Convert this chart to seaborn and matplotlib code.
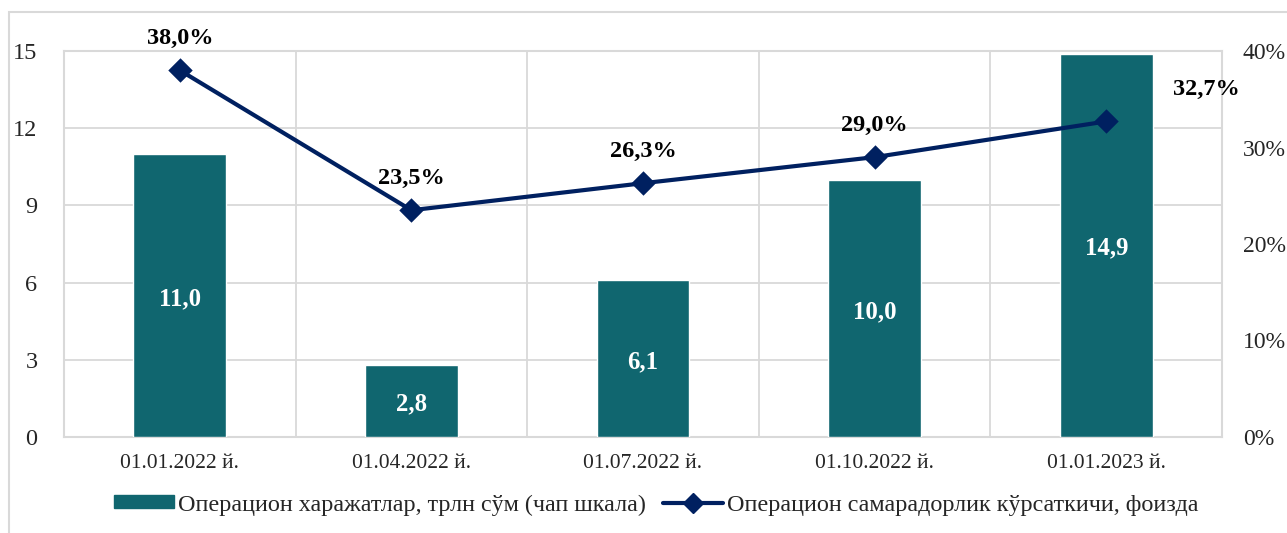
import matplotlib
matplotlib.use("Agg")
import matplotlib.pyplot as plt
from matplotlib.patches import Rectangle, Patch
from matplotlib.lines import Line2D
import matplotlib.ticker as mticker
import seaborn as sns
import pandas as pd
import numpy as np

# Data
dates = ["01.01.2022 й.", "01.04.2022 й.", "01.07.2022 й.", "01.10.2022 й.", "01.01.2023 й."]
expenses = [11.0, 2.8, 6.1, 10.0, 14.9]          # trillion sum, left axis
efficiency = [38.0, 23.5, 26.3, 29.0, 32.7]      # percent, right axis
left_ticks = [0, 3, 6, 9, 12, 15]
right_ticks = [0, 10, 20, 30, 40]

bar_label = "Операцион харажатлар, трлн сўм (чап шкала)"
line_label = "Операцион самарадорлик кўрсаткичи, фоизда"

bar_color = "#10666f"
line_color = "#002060"
grid_color = "#d9d9d9"

sns.set_theme(style="white")
plt.rcParams["font.family"] = ["Liberation Serif", "DejaVu Serif"]

df = pd.DataFrame({"date": dates, "expenses": expenses, "efficiency": efficiency})

W, H = 1287, 533
fig = plt.figure(figsize=(W / 100, H / 100), dpi=100)

# Outer chart frame
fig.add_artist(Rectangle((9 / W, -0.1), 1.2, (H - 12) / H + 0.1, transform=fig.transFigure,
                         fill=False, edgecolor=grid_color, linewidth=1.5))

x0, x1, ytop, ybot = 64, 1222, 51, 437
ax = fig.add_axes([x0 / W, (H - ybot) / H, (x1 - x0) / W, (ybot - ytop) / H])

sns.barplot(data=df, x="date", y="expenses", color=bar_color, saturation=1,
            width=0.4, ax=ax, zorder=3)
ax.set_ylim(0, 15)
ax.set_xlim(-0.5, len(dates) - 0.5)
ax.set_yticks(left_ticks)
ax.set_xlabel("")
ax.set_ylabel("")

# Grid: horizontal at ticks, vertical between categories
for t in left_ticks:
    ax.axhline(t, color=grid_color, linewidth=1.3, zorder=0)
for b in np.arange(len(dates) + 1) - 0.5:
    ax.axvline(b, color=grid_color, linewidth=1.3, zorder=0)
for s in ax.spines.values():
    s.set_color(grid_color)
    s.set_linewidth(1.5)

ax.tick_params(axis="y", length=0, pad=19, labelsize=17.5)
ax.tick_params(axis="x", length=0, pad=12, labelsize=15.5)

# Bar value labels
for p, v in zip(ax.patches, expenses):
    ax.annotate(f"{v:.1f}".replace(".", ","), (p.get_x() + p.get_width() / 2, v / 2),
                xytext=(0, -3), textcoords="offset pixels",
                ha="center", va="center", color="white", fontsize=17.8,
                fontweight="bold", zorder=5)

ax2 = ax.twinx()
sns.pointplot(data=df, x="date", y="efficiency", color=line_color, markers="D",
              markersize=10, linewidth=3, ax=ax2, zorder=4)
ax2.set_ylim(0, 40)
ax2.set_xlim(-0.5, len(dates) - 0.5)
ax2.set_yticks(right_ticks)
ax2.yaxis.set_major_formatter(mticker.FuncFormatter(lambda v, _: f"{v:.0f}%"))
ax2.set_ylabel("")
ax2.set_xlabel("")
ax2.tick_params(axis="y", length=0, pad=15, labelsize=17)
for s in ax2.spines.values():
    s.set_visible(False)

# Percentage labels above the line
for i, v in enumerate(efficiency):
    dx = 100 if i == len(efficiency) - 1 else 0
    ax2.annotate(f"{v:.1f}%".replace(".", ","), (i, v), xytext=(dx, 21),
                 textcoords="offset pixels", ha="center", va="bottom",
                 fontsize=17.5, fontweight="bold", color="black", zorder=6)

handles = [Patch(facecolor=bar_color, edgecolor=bar_color),
           Line2D([0], [0], color=line_color, linewidth=3, marker="D", markersize=10)]
fig.legend(handles, [bar_label, line_label], loc="center",
           bbox_to_anchor=(656 / W, (H - 505) / H), ncol=2, frameon=False,
           fontsize=17.4, handlelength=2.5, handletextpad=0.15, columnspacing=0.7,
           handleheight=0.45)

fig.savefig("out.png", dpi=100)
